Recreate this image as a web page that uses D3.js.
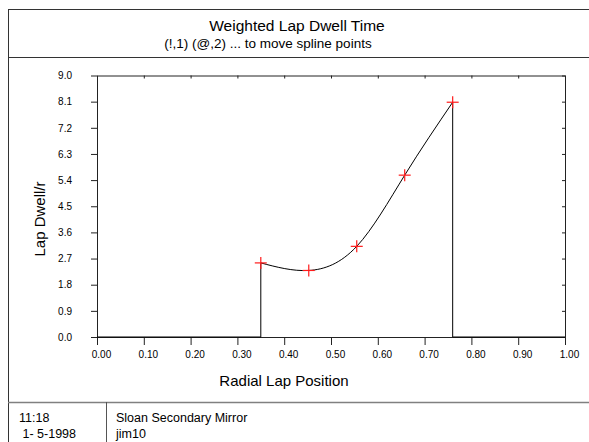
<!DOCTYPE html>
<html>
<head>
<meta charset="utf-8">
<script src="https://cdn.jsdelivr.net/npm/d3@7"></script>
<style>
  body { margin: 0; background: #fff; }
  svg text { font-family: "Liberation Sans", Arial, sans-serif; fill: #000; }
</style>
</head>
<body>
<div id="chart"></div>
<script>
// spline control points
const splineX = [0.35, 0.4525, 0.555, 0.6575, 0.76];
const splineY = [2.55, 2.29, 3.12, 5.57, 8.08];
const xTicks = [0, 0.1, 0.2, 0.3, 0.4, 0.5, 0.6, 0.7, 0.8, 0.9, 1.0];
const yTicks = [0, 0.9, 1.8, 2.7, 3.6, 4.5, 5.4, 6.3, 7.2, 8.1, 9.0];

const W = 589, H = 442;
const m = {top: 75.5, right: 24, bottom: 105, left: 97};
const w = W - m.left - m.right, h = H - m.top - m.bottom;

const svg = d3.select("#chart").append("svg")
    .attr("width", W).attr("height", H);

// outer frame + header / footer separators
svg.append("rect").attr("x", 8.5).attr("y", 9.5).attr("width", 600).attr("height", 460)
    .attr("fill", "none").attr("stroke", "#333");
svg.append("line").attr("x1", 8).attr("x2", 600).attr("y1", 57.5).attr("y2", 57.5)
    .attr("stroke", "#333");
svg.append("line").attr("x1", 8).attr("x2", 600).attr("y1", 402.5).attr("y2", 402.5)
    .attr("stroke", "#808080").attr("stroke-width", 1.5);
svg.append("line").attr("x1", 106.5).attr("x2", 106.5).attr("y1", 402).attr("y2", 450)
    .attr("stroke", "#555");

// titles
svg.append("text").attr("x", 297).attr("y", 31).attr("text-anchor", "middle")
    .style("font-size", "15.5px").text("Weighted Lap Dwell Time");
svg.append("text").attr("x", 268).attr("y", 48).attr("text-anchor", "middle")
    .style("font-size", "13.5px").text("(!,1) (@,2) ... to move spline points");

// footer
const foot = (x, y, t) => svg.append("text").attr("x", x).attr("y", y)
    .attr("xml:space", "preserve").style("white-space", "pre")
    .style("font-size", "12.5px").text(t);
foot(19, 422, "11:18");
foot(19, 438, " 1- 5-1998");
foot(116, 422, "Sloan Secondary Mirror");
foot(116, 438, "jim10");

const g = svg.append("g").attr("transform", `translate(${m.left},${m.top})`);

const x = d3.scaleLinear().domain([0, 1]).range([0, w]);
const y = d3.scaleLinear().domain([0, 9]).range([h, 0]);

// axes
const styleAxis = sel => {
  sel.select(".domain").attr("stroke", "#222");
  sel.selectAll(".tick line").attr("stroke", "#222");
  sel.selectAll("text").style("font-size", "10px").style("font-family", "Liberation Sans, Arial, sans-serif");
};
g.append("g").attr("transform", `translate(0,${h})`)
  .call(d3.axisBottom(x).tickValues(xTicks).tickFormat(d3.format(".2f")).tickSize(8).tickSizeOuter(0).tickPadding(6))
  .call(styleAxis)
  .selectAll("text").attr("dx", 4);
g.append("g")
  .call(d3.axisLeft(y).tickValues(yTicks).tickFormat(d3.format(".1f")).tickSize(6).tickSizeOuter(0).tickPadding(19))
  .call(styleAxis);
g.append("g")
  .call(d3.axisTop(x).tickValues(xTicks).tickFormat("").tickSize(-3).tickSizeOuter(0))
  .call(styleAxis);
g.append("g").attr("transform", `translate(${w},0)`)
  .call(d3.axisRight(y).tickValues(yTicks).tickFormat("").tickSize(-3).tickSizeOuter(0))
  .call(styleAxis);

// axis titles
svg.append("text").attr("x", 284).attr("y", 386).attr("text-anchor", "middle")
    .style("font-size", "15px").text("Radial Lap Position");
svg.append("text").attr("transform", "translate(45,219) rotate(-90)").attr("text-anchor", "middle")
    .style("font-size", "15px").text("Lap Dwell/r");

// weighting curve: zero, step up, spline, step down, zero
const pts = splineX.map((d, i) => [d, splineY[i]]);
const spline = d3.line().x(d => x(d[0])).y(d => y(d[1])).curve(d3.curveNatural);
const step = d3.line().x(d => x(d[0])).y(d => y(d[1]));
const first = pts[0], last = pts[pts.length - 1];
g.append("path").attr("d", step([[0, 0], [first[0], 0], first]))
  .attr("fill", "none").attr("stroke", "#000");
g.append("path").attr("d", spline(pts))
  .attr("fill", "none").attr("stroke", "#000");
g.append("path").attr("d", step([last, [last[0], 0], [1, 0]]))
  .attr("fill", "none").attr("stroke", "#000");

// red crosses at spline points
const cross = g.selectAll(".pt").data(pts).join("g")
  .attr("transform", d => `translate(${x(d[0])},${y(d[1])})`);
cross.append("line").attr("x1", -6).attr("x2", 6).attr("stroke", "#ff1a1a").attr("stroke-width", 1.2);
cross.append("line").attr("y1", -6).attr("y2", 6).attr("stroke", "#ff1a1a").attr("stroke-width", 1.2);
</script>
</body>
</html>
